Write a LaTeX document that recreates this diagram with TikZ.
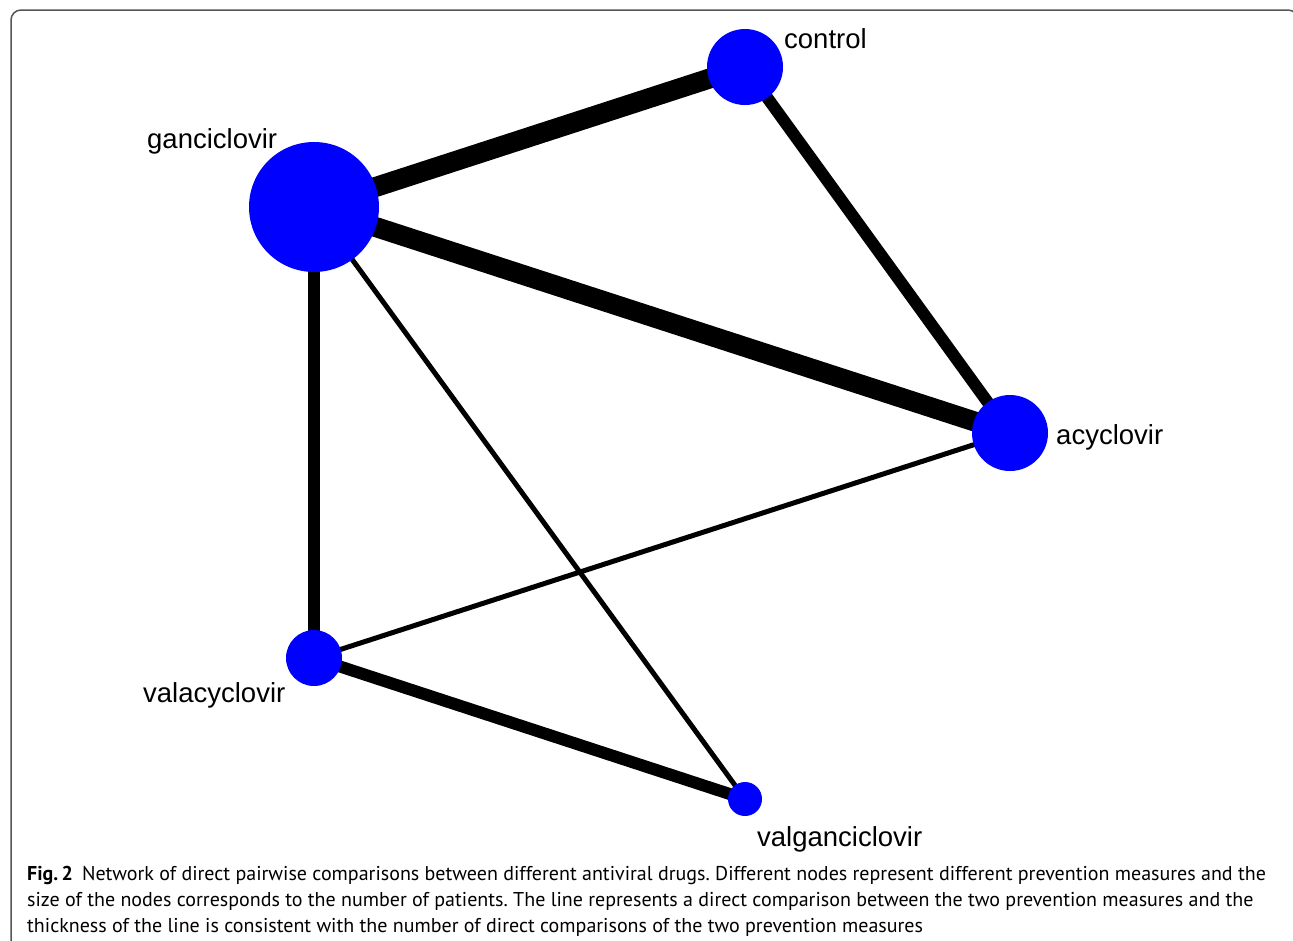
\documentclass[tikz,border=0pt]{standalone}
\usepackage{fontspec}
\setmainfont{Liberation Sans}
\newfontfamily\capfont{PT Sans}
\usetikzlibrary{positioning,backgrounds}
\definecolor{drugblue}{RGB}{0,0,255}
\definecolor{framegray}{RGB}{85,85,85}

\begin{document}
\frenchspacing
\begin{tikzpicture}[x=1pt,y=-1pt,
 drug/.style={circle,fill=drugblue,inner sep=0pt},
 druglabel/.style={font=\fontsize{27.5}{30}\selectfont,inner sep=0pt},
 cmpthick/.style={line width=20pt},
 cmpmid/.style={line width=12pt},
 cmpthin/.style={line width=5pt}
]
\useasboundingbox (0,0) rectangle (1293,940);
\clip (0,0) rectangle (1293,940);
\draw[framegray,line width=1.5pt,rounded corners=10pt] (11,980) -- (11,10) -- (1298,10) -- (1298,980);
\node[drug,minimum size=130pt] (gan) at (314,207) {}; \node[drug,minimum size=76pt] (con) at (745,67) {};
\node[drug,minimum size=76pt] (acy) at (1010,433) {}; \node[drug,minimum size=56pt] (vala) at (314,658) {};
\node[drug,minimum size=34pt] (valg) at (745,799) {};
\begin{scope}[on background layer]
\draw[cmpthick] (gan.center)--(con.center); \draw[cmpthick] (gan.center)--(acy.center);
\draw[cmpmid] (con.center)--(acy.center); \draw[cmpmid] (gan.center)--(vala.center); \draw[cmpmid] (vala.center)--(valg.center);
\draw[cmpthin] (gan.center)--(valg.center); \draw[cmpthin] (acy.center)--(vala.center);
\end{scope}
\node[druglabel,anchor=base west] (lcon) at (784,48) {control};
\node[druglabel,anchor=base west] (lgan) at (147,148) {ganciclovir};
\node[druglabel,anchor=base west] (lacy) at (1056,444) {acyclovir};
\node[druglabel,anchor=base west] (lvala) at (143,702) {valacyclovir};
\node[druglabel,anchor=base west] (lvalg) at (757,846) {valganciclovir};
% caption: base anchor sits on the last line
\node[anchor=base west,inner sep=0pt,align=left,font=\capfont\fontsize{20}{26}\selectfont] (cap) at (27,932)
 {{\bfseries Fig.\,2}\hspace{9pt}Network of direct pairwise comparisons between different antiviral drugs. Different nodes represent different prevention measures and the\\
 size of the nodes corresponds to the number of patients. The line represents a direct comparison between the two prevention measures and the\\
 thickness of the line is consistent with the number of direct comparisons of the two prevention measures};
\end{tikzpicture}
\end{document}
